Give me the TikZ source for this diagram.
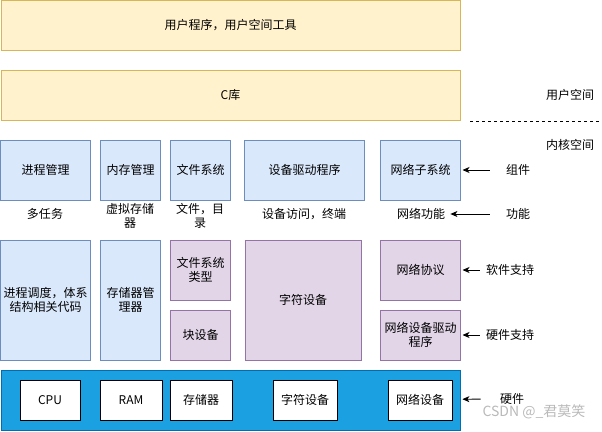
\documentclass[tikz,border=0pt]{standalone}
\usepackage{fontspec}
\setmainfont{Noto Sans CJK SC}
\usetikzlibrary{arrows.meta}
\usetikzlibrary{positioning}
\definecolor{userfill}{HTML}{FFF2CC}
\definecolor{userdraw}{HTML}{D6B656}
\definecolor{kernfill}{HTML}{DAE8FC}
\definecolor{kerndraw}{HTML}{6C8EBF}
\definecolor{drvfill}{HTML}{E1D5E7}
\definecolor{drvdraw}{HTML}{9673A6}
\definecolor{hwfill}{HTML}{1BA1E2}
\definecolor{hwdraw}{HTML}{006EAF}
\tikzstyle{user} = [rectangle, draw=userdraw, fill=userfill, outer sep=0pt,
    minimum width=459pt, minimum height=50pt]
\tikzstyle{kblock} = [rectangle, draw=kerndraw, fill=kernfill, outer sep=0pt,
    minimum height=60pt, align=center, inner sep=1pt]
\tikzstyle{dblock} = [rectangle, draw=drvdraw, fill=drvfill, outer sep=0pt,
    align=center, inner sep=1pt]
\tikzstyle{hwbox} = [rectangle, draw=black, fill=white, outer sep=0pt,
    minimum width=60pt, minimum height=40pt]
\tikzstyle{func} = [align=center, inner sep=2pt]
\tikzstyle{side} = [inner sep=2pt]
\tikzstyle{line} = [draw, -{Stealth[length=7pt, width=6pt, inset=2pt]}]

\begin{document}
\begin{tikzpicture}[x=1pt, y=-1pt, line width=0.8pt, font=\fontsize{12}{14}\selectfont]
  \useasboundingbox (0,0) rectangle (602,431);
  % user space
  \node [user] (app) at (230.5,25) {用户程序，用户空间工具};
  \node [user] (libc) at (230.5,95) {C库};
  \node [side] (uspace) at (570,95) {用户空间};
  \draw [dashed, line width=0.6pt] (470,121) -- (602,121);
  \node [side] (kspace) at (570,145) {内核空间};

  % components
  \node [kblock, minimum width=90pt] (proc) at (45.5,170) {进程管理};
  \node [kblock, minimum width=60pt, right=10pt of proc] (mem) {内存管理};
  \node [kblock, minimum width=60pt, right=10pt of mem] (fs) {文件系统};
  \node [kblock, minimum width=120pt, right=14pt of fs] (dev) {设备驱动程序};
  \node [kblock, minimum width=80pt, right=16pt of dev] (net) {网络子系统};

  % functions
  \node [func] (ftask) at (45,214) {多任务};
  \node [func] (fvm) at (130,216) {虚拟存储\\器};
  \node [func] (ffile) at (200,216) {文件，目\\录};
  \node [func] (fdev) at (304,214) {设备访问，终端};
  \node [func] (fnet) at (421,214) {网络功能};

  % software / hardware support
  \node [kblock, minimum width=90pt, minimum height=120pt] (sched) at (45.5,300) {进程调度，体系\\结构相关代码};
  \node [kblock, minimum width=60pt, minimum height=120pt, right=10pt of sched] (mmgr) {存储器管\\理器};
  \node [dblock, minimum width=60pt, minimum height=60pt] (fstype) at (200.5,270) {文件系统\\类型};
  \node [dblock, minimum width=60pt, minimum height=50pt] (blk) at (200.5,335) {块设备};
  \node [dblock, minimum width=116pt, minimum height=120pt] (chr) at (303,300) {字符设备};
  \node [dblock, minimum width=80pt, minimum height=60pt] (proto) at (420.5,270) {网络协议};
  \node [dblock, minimum width=80pt, minimum height=50pt] (ndrv) at (420.5,335) {网络设备驱动\\程序};

  % hardware
  \node [rectangle, draw=hwdraw, fill=hwfill, minimum width=459pt, minimum height=60pt] (hw) at (230.5,400) {};
  \node [hwbox] (cpu) at (50,400) {CPU};
  \node [hwbox, minimum width=62pt] (ram) at (131,400) {RAM};
  \node [hwbox, minimum width=62pt] (stor) at (201,400) {存储器};
  \node [hwbox, minimum width=64pt] (hchr) at (305,400) {字符设备};
  \node [hwbox, minimum width=64pt] (hnet) at (420,400) {网络设备};

  % legend
  \node [side] (lcomp) at (518,170) {组件};
  \node [side] (lfunc) at (518,214) {功能};
  \node [side] (lsoft) at (510,270) {软件支持};
  \node [side] (lhard) at (510,335) {硬件支持};
  \node [side] (lhw) at (512,399) {硬件};

  \path [line, shorten <=14pt, shorten >=2pt] (lcomp) -- (net);
  \path [line, shorten <=14pt, shorten >=3pt] (lfunc) -- (fnet);
  \path [line, shorten <=4pt, shorten >=2pt] (lsoft) -- (proto);
  \path [line, shorten <=4pt, shorten >=2pt] (lhard) -- (ndrv);
  \path [line, shorten <=17pt, shorten >=2pt] (lhw) -- (hw);

  \node [text=gray!55, font=\fontsize{14}{16}\selectfont] (mark) at (534,412) {CSDN @\_君莫笑};
\end{tikzpicture}
\end{document}
